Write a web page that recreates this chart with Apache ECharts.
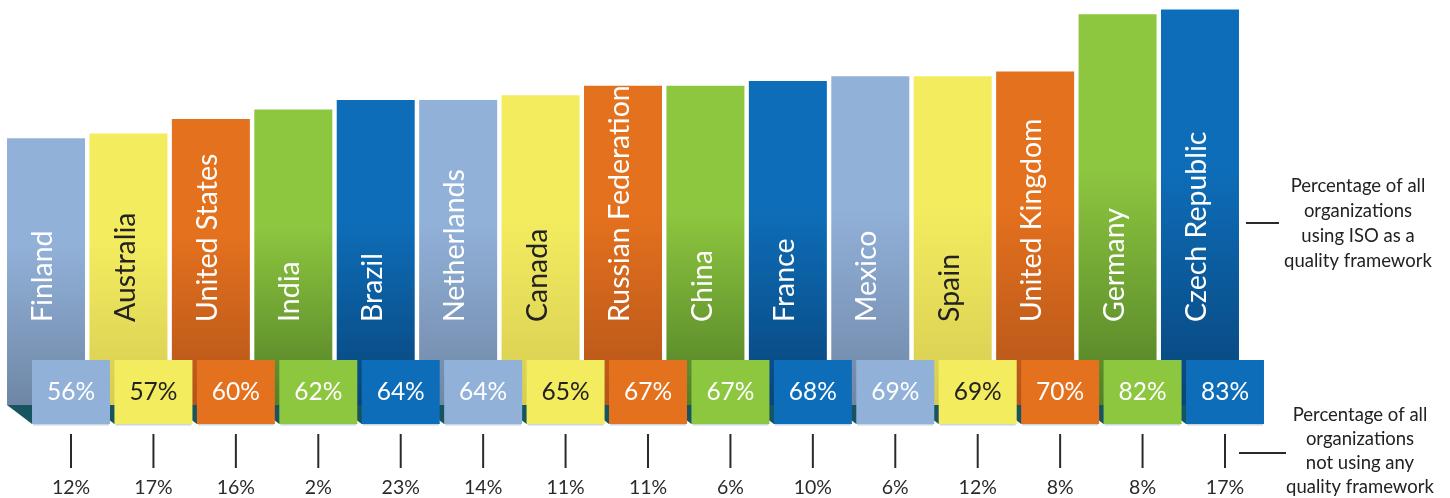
<!DOCTYPE html>
<html>
<head>
<meta charset="utf-8">
<script src="https://cdn.jsdelivr.net/npm/echarts@6/dist/echarts.min.js"></script>
<style>
html,body{margin:0;padding:0;background:#fff;}
#chart{width:1450px;height:498px;}
</style>
</head>
<body>
<div id="chart"></div>
<script>
// ---- data ----
var countries = ['Finland','Australia','United States','India','Brazil','Netherlands','Canada','Russian Federation','China','France','Mexico','Spain','United Kingdom','Germany','Czech Republic'];
var usingISO = [56,57,60,62,64,64,65,67,67,68,69,69,70,82,83];
var notUsingAny = [12,17,16,2,23,14,11,11,6,10,6,12,8,8,17];
var legendUsing = 'Percentage of all\norganizations\nusing ISO as a\nquality framework';
var legendNotUsing = 'Percentage of all\norganizations\nnot using any\nquality framework';

// ---- styles ----
var palette = [
  {top:'#92b1d9', bottom:'#6f87a6', text:'#ffffff'},
  {top:'#f3ec5f', bottom:'#d6cc52', text:'#222222'},
  {top:'#e4711e', bottom:'#b3541a', text:'#ffffff'},
  {top:'#8dc63f', bottom:'#517f27', text:'#ffffff'},
  {top:'#0e6db8', bottom:'#08457a', text:'#ffffff'}
];
var FONT = 'Lato, "Open Sans", sans-serif';
var BAR_W = 78, OFFSET = 25;

var barData = usingISO.map(function(v, i){
  var c = palette[i % 5];
  return {
    value: v,
    itemStyle: {color: new echarts.graphic.LinearGradient(0,0,0,1,[{offset:0,color:c.top},{offset:0.4,color:c.top},{offset:1,color:c.bottom}])},
    label: {color: c.text}
  };
});
var customData = usingISO.map(function(v, i){ return [i, v, notUsingAny[i]]; });

var chart = echarts.init(document.getElementById('chart'), null, {renderer:'canvas'});
chart.setOption({
  animation: false,
  backgroundColor: '#ffffff',
  grid: {left: 4.8, right: 208.8, top: 0, bottom: 93, containLabel: false},
  xAxis: {type:'category', data: countries, show:false, boundaryGap:true},
  yAxis: {type:'value', min:0, max:85, show:false},
  series: [
    {
      type:'bar',
      data: barData,
      barWidth: BAR_W,
      z: 1,
      label: {
        show: true,
        formatter: function(p){ return countries[p.dataIndex]; },
        position: 'insideBottom',
        distance: 83,
        rotate: 90,
        align: 'left',
        verticalAlign: 'middle',
        fontFamily: FONT,
        fontSize: 28.5,
        offset: [0, -3]
      }
    },
    {
      type:'custom',
      z: 2,
      data: customData,
      renderItem: function(params, api){
        var i = api.value(0);
        var p = api.coord([i, 0]);
        var x0 = p[0] - BAR_W/2, x1 = p[0] + BAR_W/2, y0 = p[1];
        return {
          type:'polygon',
          shape:{points:[[x0,y0],[x1,y0],[x1+OFFSET,y0+19],[x0+OFFSET,y0+19]]},
          style:{fill:'#17545f'}
        };
      }
    },
    {
      type:'custom',
      z: 3,
      data: customData,
      renderItem: function(params, api){
        var i = api.value(0);
        var p = api.coord([i, 0]);
        var c = palette[i % 5];
        var bx = p[0] - BAR_W/2 + OFFSET, y0 = p[1];
        var cx = bx + BAR_W/2;
        return {
          type:'group',
          children:[
            {type:'rect', shape:{x:bx+1, y:y0+19, width:BAR_W-2, height:1.5}, style:{fill:'#c9d6e0'}},
            {type:'rect', shape:{x:bx, y:y0-45, width:BAR_W, height:64}, style:{fill:c.top}},
            {type:'text', style:{text: api.value(1)+'%', x:cx, y:y0-13, align:'center', verticalAlign:'middle', fill:c.text, fontFamily:FONT, fontSize:24.5}},
            {type:'line', shape:{x1:cx, y1:y0+29, x2:cx, y2:y0+63}, style:{stroke:'#2a2a2a', lineWidth:2}},
            {type:'text', style:{text: api.value(2)+'%', x:cx, y:y0+83, align:'center', verticalAlign:'middle', fill:'#2a2a2a', fontFamily:FONT, fontSize:19.5}}
          ]
        };
      }
    }
  ],
  graphic: [
    {type:'line', shape:{x1:1246, y1:223, x2:1279, y2:223}, style:{stroke:'#2a2a2a', lineWidth:2}},
    {type:'text', style:{text: legendUsing, x:1358, y:224, align:'center', verticalAlign:'middle', fill:'#222', fontFamily:FONT, fontSize:18.5, lineHeight:25}},
    {type:'line', shape:{x1:1239, y1:453, x2:1286, y2:453}, style:{stroke:'#2a2a2a', lineWidth:2}},
    {type:'text', style:{text: legendNotUsing, x:1360, y:451, align:'center', verticalAlign:'middle', fill:'#222', fontFamily:FONT, fontSize:18.5, lineHeight:24}}
  ]
});
</script>
</body>
</html>
